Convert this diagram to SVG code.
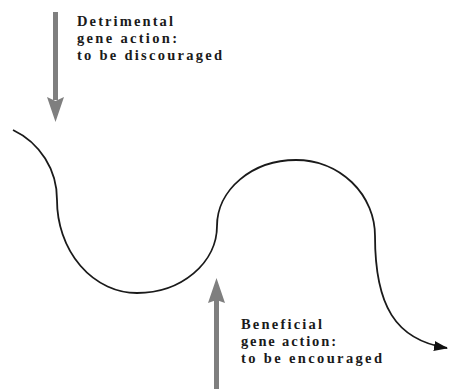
<svg xmlns="http://www.w3.org/2000/svg" width="449" height="389" viewBox="0 0 449 389">
<style>
.lbl{font-family:"Liberation Serif","Times New Roman",serif;font-weight:bold;font-size:14.5px;fill:#1a1a1a}
.garrow{fill:#7f7f7f}
.curve{fill:none;stroke:#1a1a1a;stroke-width:1.8}
</style>
<defs>
<marker id="ah" viewBox="0 0 14 10" refX="13" refY="5" markerWidth="14" markerHeight="10" markerUnits="userSpaceOnUse" orient="auto">
<path d="M0,0 L14,5 L0,10 Z" fill="#111"/>
</marker>
</defs>
<rect width="449" height="389" fill="#fff"/>
<g id="connectors">
<path class="curve" marker-end="url(#ah)" d="M13,130 A77,77 0 0 1 57,200 A80,93 0 0 0 137,293 A80,67 0 0 0 217,226 A79,66 0 0 1 296,160 A79,76 0 0 1 375,236 C375,305 395,340 447,348"/>
</g>
<g id="detrimental">
<rect class="garrow" x="53" y="12" width="5" height="88"/>
<polygon class="garrow" points="47,97 55.5,101 64,97 55.5,122"/>
<text class="lbl" x="77" y="26" textLength="96" lengthAdjust="spacing">Detrimental</text>
<text class="lbl" x="77" y="43" textLength="100" lengthAdjust="spacing">gene action:</text>
<text class="lbl" x="77" y="60" textLength="145" lengthAdjust="spacing">to be discouraged</text>
</g>
<g id="beneficial">
<rect class="garrow" x="214" y="299" width="5" height="90"/>
<polygon class="garrow" points="216.5,278 225,303 216.5,300 208,303"/>
<text class="lbl" x="241" y="329" textLength="81" lengthAdjust="spacing">Beneficial</text>
<text class="lbl" x="241" y="346" textLength="95" lengthAdjust="spacing">gene action:</text>
<text class="lbl" x="241" y="363" textLength="141" lengthAdjust="spacing">to be encouraged</text>
</g>
</svg>
